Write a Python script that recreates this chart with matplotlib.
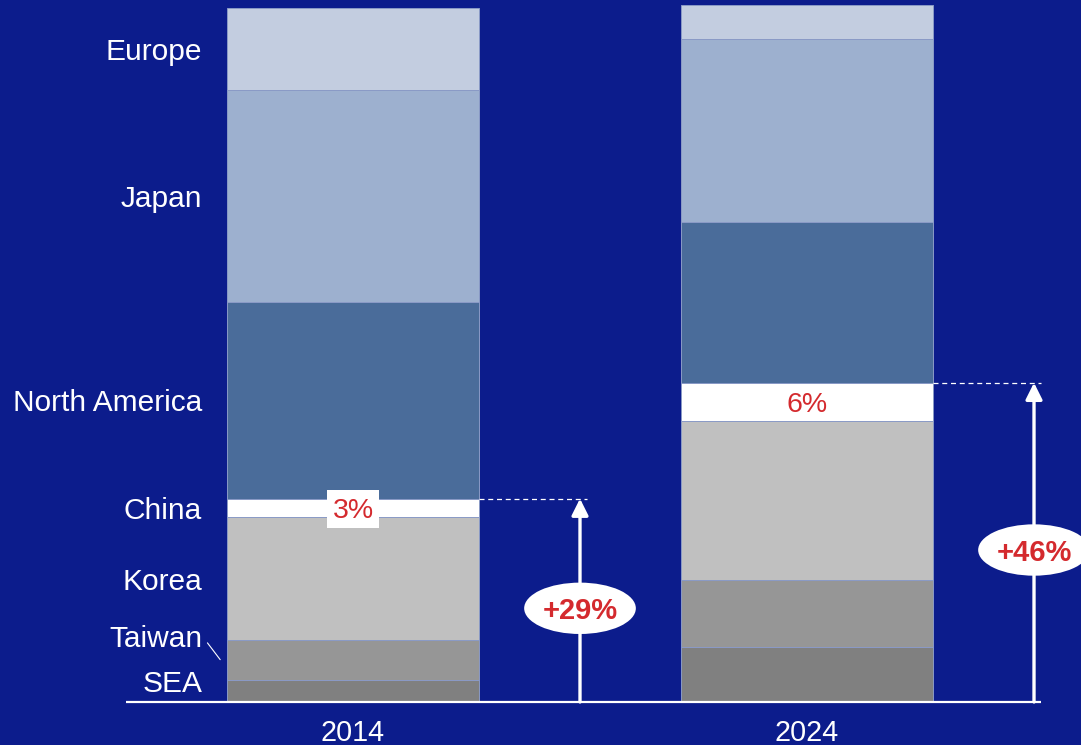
import matplotlib
matplotlib.use('Agg')
import matplotlib.pyplot as plt
from matplotlib.patches import Ellipse
import numpy as np

plt.rcParams['font.family'] = ['Liberation Sans', 'DejaVu Sans']

years = ['2014', '2024']
regions = ['SEA', 'Taiwan', 'Korea', 'China', 'North America', 'Japan', 'Europe']
share_2014 = [3.2, 5.8, 17.6, 2.7, 28.4, 30.5, 11.8]
share_2024 = [7.9, 9.7, 22.9, 5.5, 23.1, 26.5, 4.9]
china_labels = ['3%', '6%']
growth_labels = ['+29%', '+46%']

colors = ['#808080', '#969696', '#c0c0c0', '#ffffff', '#4a6c9a', '#9db0cf', '#c3cde0']
BG = '#0c1c8c'
RED = '#d42a2e'
DY = -2.2  # visual centring correction, points

fig = plt.figure(figsize=(10.81, 7.45), dpi=100, facecolor=BG)
ax = fig.add_axes([0, 0, 1, 1])
ax.set_facecolor(BG)
ax.set_xlim(-0.7775, 1.6035)
ax.set_ylim(-6.196, 101.15)
ax.axis('off')

x = np.arange(len(years))
width = 0.555
data = np.array([share_2014, share_2024])
bottoms = np.zeros(len(years))
mids = []
for i, reg in enumerate(regions):
    ax.bar(x, data[:, i], width, bottom=bottoms, color=colors[i],
           edgecolor='#8a9ac6', linewidth=0.7, zorder=2)
    mids.append(bottoms + data[:, i] / 2)
    bottoms = bottoms + data[:, i]
mids = np.array(mids)


def label(txt, xy, dx=0, dy=0, **kw):
    return ax.annotate(txt, xy=xy, xytext=(dx, dy + DY), textcoords='offset points',
                       va='center', **kw)


# region labels next to 2014 bar
left_edge = x[0] - width / 2
label_fs = 21.5
for i, reg in enumerate(regions):
    if reg == 'Taiwan':
        ax.annotate(reg, xy=(left_edge - 0.015, mids[i, 0]), xytext=(-13, 17.3 + DY),
                    textcoords='offset points', ha='right', va='center',
                    color='white', fontsize=label_fs,
                    arrowprops=dict(arrowstyle='-', color='white', lw=0.8,
                                    relpos=(1, 0.6), shrinkA=3, shrinkB=0))
    elif reg == 'SEA':
        label(reg, (left_edge, mids[i, 0]), -18, 7, ha='right', color='white',
              fontsize=label_fs)
    else:
        label(reg, (left_edge, mids[i, 0]), -18, 0, ha='right', color='white',
              fontsize=label_fs)

# China share labels
china_idx = regions.index('China')
ax.annotate(china_labels[0], xy=(x[0], mids[china_idx, 0]), xytext=(0, -0.8),
            textcoords='offset points', ha='center', va='center',
            color=RED, fontsize=20.5, zorder=5, alpha=0,
            bbox=dict(boxstyle='square,pad=0.2', fc='white', ec='none'))
label(china_labels[0], (x[0], mids[china_idx, 0]), 0, 0, ha='center',
      color=RED, fontsize=20.5, zorder=6)
label(china_labels[1], (x[1], mids[china_idx, 1]), 0, 0, ha='center',
      color=RED, fontsize=20.5, zorder=6)

# baseline
ax.plot([-0.5, 1.515], [0, 0], color='white', lw=1.6, zorder=3, solid_capstyle='butt')

# growth arrows, dashed guides, ellipse labels
tops = data[:, :china_idx + 1].sum(axis=1)
ell_y = [13.5, 21.9]
for j in range(len(years)):
    ax_x = x[j] + 0.5
    ax.plot([x[j] + width / 2, ax_x + 0.016], [tops[j], tops[j]], color='white',
            lw=0.9, dashes=(4, 3), zorder=3)
    ax.annotate('', xy=(ax_x, tops[j]), xytext=(ax_x, 0),
                arrowprops=dict(arrowstyle='-|>,head_length=0.5,head_width=0.25',
                                mutation_scale=20, color='white', lw=2.4,
                                shrinkA=0, shrinkB=0), zorder=4)
    ax.add_patch(Ellipse((ax_x, ell_y[j]), 0.246, 7.4, fc='white', ec='none', zorder=5))
    label(growth_labels[j], (ax_x, ell_y[j]), 0, 0, ha='center',
          color=RED, fontsize=21, fontweight='bold', zorder=6)

# year labels
for j, yr in enumerate(years):
    label(yr, (x[j], -4.03), 0, 0, ha='center', color='white', fontsize=20.7)

fig.savefig('out.png', dpi=100, facecolor=BG)
